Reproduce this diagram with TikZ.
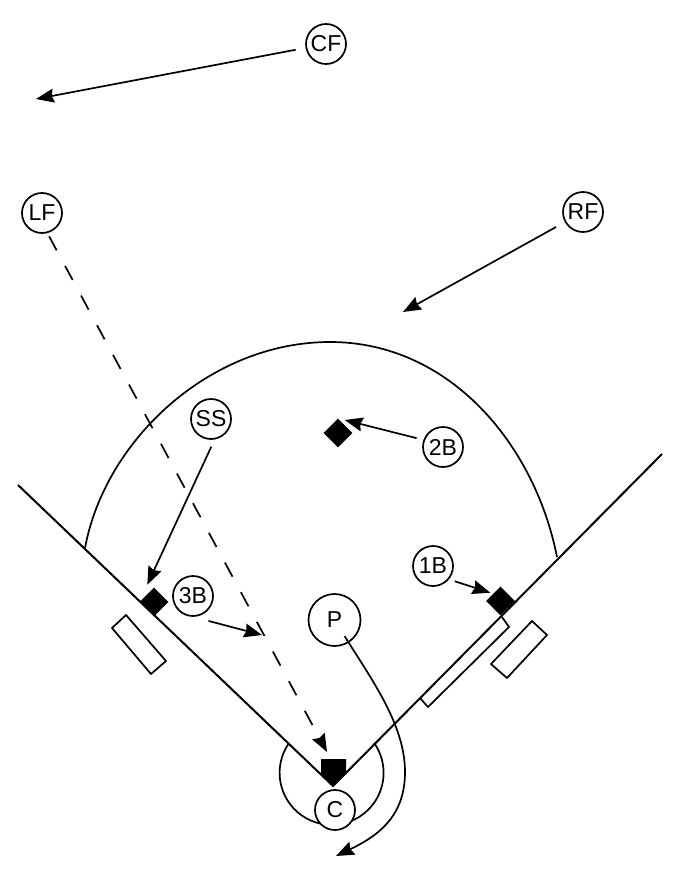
\documentclass[tikz,border=0pt]{standalone}
\usepackage{fontspec}
\setmainfont{Liberation Sans}
\usetikzlibrary{arrows.meta,shapes.geometric}
\tikzset{
  player/.style={draw, circle, line width=1.7pt, fill=white, inner sep=0pt, minimum size=40pt, font=\fontsize{23}{23}\selectfont},
  bag/.style={diamond, fill=black, inner sep=0pt, minimum size=29pt},
  move/.style={-{Stealth[length=18pt,width=14pt,inset=2pt]}, line width=1.7pt},
  line/.style={line width=2pt},
  thin line/.style={line width=1.7pt}
}
\begin{document}
\begin{tikzpicture}[x=1pt,y=-1pt]
\useasboundingbox (0,0) rectangle (687,880);
% field
\coordinate (lfoul) at (18,485);
\coordinate (rfoul) at (662,454);
\coordinate (plate) at (333,786);
\draw[line] (lfoul) -- (plate) -- (rfoul);
\draw[thin line] (85,548) .. controls (105,440) and (210,342) .. (330,342) .. controls (450,342) and (535,445) .. (557,557);
\draw[thin line] (289,743) arc[start angle=145, end angle=395, radius=52pt];
% boxes
\draw[thin line] (126,615) -- (112,628) -- (151,674) -- (166,661) -- cycle;
\draw[thin line] (532,621) -- (547,635) -- (507,678) -- (491,664) -- cycle;
\draw[thin line] (502,617) -- (509,627) -- (428,707) -- (420,698);
% bases
\node[bag] (third) at (154,602) {};
\node[bag] (second) at (338,433) {};
\node[bag] (first) at (500.5,601) {};
\fill (321,759) -- (346,759) -- (346,774) -- (plate) -- (321,774) -- cycle;
% players
\node[player] (CF) at (326,44) {CF};
\node[player] (LF) at (42,213) {LF};
\node[player] (RF) at (583,212) {RF};
\node[player] (SS) at (211,419) {SS};
\node[player] (2B) at (443,447) {2B};
\node[player] (1B) at (433,566) {1B};
\node[player] (3B) at (193,596) {3B};
\node[player, minimum size=52pt] (P) at (334.5,620) {P};
\node[player] (C) at (335,810) {C};
% free ends
\coordinate (CFend) at (36,99);
\coordinate (RFend) at (403,312);
\coordinate (3Bend) at (262,635);
\coordinate (LFend) at (327,752);
\coordinate (Pend) at (336,856);
% moves
\draw[move, shorten <=10pt] (CF) -- (CFend);
\draw[move, shorten <=10pt] (RF) -- (RFend);
\draw[move, shorten <=8pt, shorten >=19pt] (SS.-80) -- (third.west);
\draw[move, shorten <=7pt, shorten >=7pt] (2B.160) -- (second.north);
\draw[move, shorten <=6pt, shorten >=3pt] (1B.-40) -- (first.north west);
\draw[move, shorten <=16pt] (3B.-90) -- (3Bend);
\draw[move, dash pattern=on 16pt off 17.7pt, shorten <=3.5pt] (LF.-75) -- (LFend);
\draw[move, shorten <=19pt] (P.center) .. controls (372,680) and (405,725) .. (405,772) .. controls (405,815) and (380,835) .. (Pend);
\end{tikzpicture}
\end{document}
